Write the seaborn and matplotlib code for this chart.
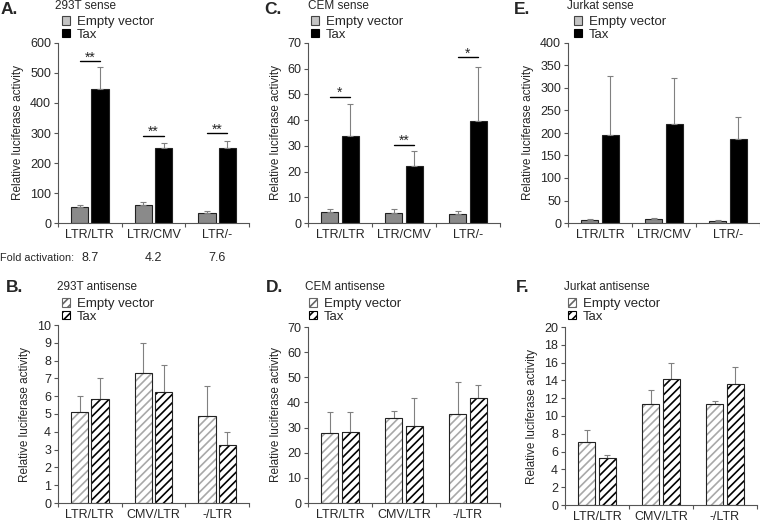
#%%
# Luciferase reporter panels A-F (sense / antisense, 293T, CEM, Jurkat)
import numpy as np
import pandas as pd
import seaborn as sns
import matplotlib
matplotlib.use('Agg')
import matplotlib.pyplot as plt
import matplotlib.transforms as mtransforms
from matplotlib.patches import Patch, Rectangle

sns.set_style('ticks')
plt.rcParams['font.family'] = ['Liberation Sans', 'DejaVu Sans']
plt.rcParams['hatch.linewidth'] = 1.2

#%%
# data
groups = ['Empty vector', 'Tax']
cats_sense = ['LTR/LTR', 'LTR/CMV', 'LTR/-']
cats_anti = ['LTR/LTR', 'CMV/LTR', '-/LTR']

# A. 293T sense
a_empty = [54, 60, 34]
a_empty_err = [6, 11, 6]
a_tax = [446, 249, 249]
a_tax_err = [75, 18, 25]
a_sig = ['**', '**', '**']
a_sig_y = [539, 291, 300]
a_fold = ['8.7', '4.2', '7.6']

# C. CEM sense
c_empty = [4.3, 3.8, 3.6]
c_empty_err = [1.0, 1.7, 0.9]
c_tax = [33.9, 22.2, 39.5]
c_tax_err = [12.5, 5.7, 21.3]
c_sig = ['*', '**', '*']
c_sig_y = [49.1, 30.5, 64.6]

# E. Jurkat sense
e_empty = [7.4, 9.6, 5.2]
e_empty_err = [0.8, 1.6, 0.8]
e_tax = [196, 220, 186]
e_tax_err = [131, 102, 49]

# B. 293T antisense
b_empty = [5.1, 7.3, 4.9]
b_empty_err = [0.93, 1.7, 1.65]
b_tax = [5.83, 6.25, 3.25]
b_tax_err = [1.2, 1.5, 0.72]

# D. CEM antisense
d_empty = [28.0, 33.8, 35.3]
d_empty_err = [8.3, 2.8, 12.8]
d_tax = [28.3, 30.7, 41.8]
d_tax_err = [8.0, 11.2, 5.3]

# F. Jurkat antisense
f_empty = [7.1, 11.4, 11.4]
f_empty_err = [1.35, 1.55, 0.3]
f_tax = [5.3, 14.2, 13.6]
f_tax_err = [0.35, 1.75, 1.95]

#%%
W, H = 760, 523
fig = plt.figure(figsize=(W / 100, H / 100), dpi=100)


def px_axes(left, top, right, bottom):
    return fig.add_axes([left / W, 1 - bottom / H, (right - left) / W, (bottom - top) / H])


def draw_panel(ax, cats, empty, empty_err, tax, tax_err, ymax, ystep, hatched):
    df = pd.DataFrame({'cat': cats * 2,
                       'group': [groups[0]] * 3 + [groups[1]] * 3,
                       'val': empty + tax})
    sns.barplot(data=df, x='cat', y='val', hue='group', order=cats, hue_order=groups,
                palette=['#8a8a8a', 'black'], width=0.64, gap=0.16, errorbar=None,
                edgecolor='#222222', linewidth=0.8, legend=False, ax=ax)
    bars = list(ax.patches)
    if hatched:
        for i, p in enumerate(bars):
            p.set_facecolor('white')
            p.set_hatch('////')
            p.set_edgecolor('#a8a8a8' if i < 3 else 'black')
            p.set_linewidth(0)
            ax.add_patch(Rectangle((p.get_x(), 0), p.get_width(), p.get_height(),
                                   fill=False, edgecolor='#222222', linewidth=0.8, zorder=3))
    xs = [p.get_x() + p.get_width() / 2 for p in bars]
    hs = [p.get_height() for p in bars]
    errs = empty_err + tax_err
    ax.errorbar(xs, hs, yerr=[np.zeros(len(errs)), errs], fmt='none', ecolor='#808080',
                elinewidth=0.8, capsize=2.5, capthick=0.8, zorder=2)

    ax.set_ylim(0, ymax)
    ax.set_yticks(np.arange(0, ymax + ystep / 2, ystep))
    ax.set_xlim(-0.5, 2.5)
    ax.set_xticks([-0.5, 0.5, 1.5, 2.5])
    ax.set_xticklabels([])
    ax.set_xticks([0, 1, 2], minor=True)
    ax.set_xticklabels(cats, minor=True, fontsize=9)
    ax.tick_params(axis='x', which='minor', length=0, pad=4)
    ax.tick_params(axis='x', which='major', length=3, width=0.8, color='#555555')
    ax.tick_params(axis='y', length=3, width=0.8, labelsize=9, pad=2, color='#555555')
    ax.set_xlabel('')
    ax.set_ylabel('Relative luciferase activity', fontsize=8.5, labelpad=4)
    sns.despine(ax=ax)
    for s in ['left', 'bottom']:
        ax.spines[s].set_color('#555555')
        ax.spines[s].set_linewidth(0.8)
    ax.patch.set_alpha(0)
    return xs


def add_legend(ax, x, y, hatched):
    if hatched:
        handles = [Patch(facecolor='white', edgecolor='#666666', hatch='////', linewidth=0.8),
                   Patch(facecolor='white', edgecolor='black', hatch='////', linewidth=0.8)]
    else:
        handles = [Patch(facecolor='#c4c4c4', edgecolor='#444444', linewidth=0.8),
                   Patch(facecolor='black', edgecolor='black', linewidth=0.8)]
    ax.legend(handles, groups, loc='upper left', bbox_to_anchor=(x / W, 1 - y / H),
              bbox_transform=fig.transFigure, frameon=False, fontsize=9.5,
              handlelength=0.6, handleheight=0.6, handletextpad=0.5,
              labelspacing=0.05, borderpad=0, borderaxespad=0)


def add_sig(ax, xs, sig, sig_y):
    for i in range(3):
        x1, x2 = xs[i], xs[i + 3]
        ax.plot([x1, x2], [sig_y[i], sig_y[i]], color='black', lw=1)
        ax.annotate(sig[i], ((x1 + x2) / 2, sig_y[i]), xytext=(0, -2.5),
                    textcoords='offset points', ha='center', va='bottom', fontsize=10)


def label(x, y, letter, title):
    fig.text(x[0] / W, 1 - y[0] / H, letter, fontsize=12.5, fontweight='bold', va='center')
    fig.text(x[1] / W, 1 - y[1] / H, title, fontsize=8.5, va='center')


#%%
# top row: sense
axA = px_axes(58, 43, 249, 223)
xs = draw_panel(axA, cats_sense, a_empty, a_empty_err, a_tax, a_tax_err, 600, 100, False)
add_sig(axA, xs, a_sig, a_sig_y)
add_legend(axA, 62, 16, False)
label((1, 55), (9, 6), 'A.', '293T sense')
fig.text(0, 1 - 258 / H, 'Fold activation:', fontsize=7.8, va='center')
trans = mtransforms.blended_transform_factory(axA.transData, fig.transFigure)
for i, f in enumerate(a_fold):
    axA.text(i, 1 - 258 / H, f, transform=trans, fontsize=9, ha='center', va='center')

axC = px_axes(308, 43, 500, 223)
xs = draw_panel(axC, cats_sense, c_empty, c_empty_err, c_tax, c_tax_err, 70, 10, False)
add_sig(axC, xs, c_sig, c_sig_y)
add_legend(axC, 311, 16, False)
label((264, 308), (9, 6), 'C.', 'CEM sense')

axE = px_axes(568, 43, 760, 223)
draw_panel(axE, cats_sense, e_empty, e_empty_err, e_tax, e_tax_err, 400, 50, False)
add_legend(axE, 574, 16, False)
label((514, 567), (9, 6), 'E.', 'Jurkat sense')

# bottom row: antisense
axB = px_axes(58, 325, 249, 503)
draw_panel(axB, cats_anti, b_empty, b_empty_err, b_tax, b_tax_err, 10, 1, True)
add_legend(axB, 62, 298, True)
label((6, 57), (288, 287), 'B.', '293T antisense')

axD = px_axes(308, 327, 500, 503)
draw_panel(axD, cats_anti, d_empty, d_empty_err, d_tax, d_tax_err, 70, 10, True)
add_legend(axD, 309, 298, True)
label((266, 305), (288, 287), 'D.', 'CEM antisense')

axF = px_axes(565, 327, 757, 505)
draw_panel(axF, cats_anti, f_empty, f_empty_err, f_tax, f_tax_err, 20, 2, True)
add_legend(axF, 568, 298, True)
label((516, 564), (288, 287), 'F.', 'Jurkat antisense')

fig.savefig('out.png', dpi=100)
